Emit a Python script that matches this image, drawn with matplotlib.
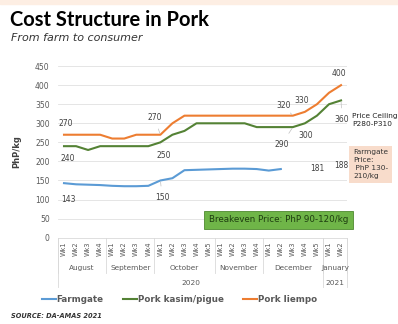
import numpy as np
import matplotlib
matplotlib.use('Agg')
import matplotlib.pyplot as plt
from matplotlib.patches import Rectangle

# Kategorien (Wochen je Monat)
months = ['August', 'September', 'October', 'November', 'December', 'January']
weeks_per_month = [4, 4, 5, 4, 5, 2]
years = ['2020', '2021']
months_per_year = [5, 1]

# Preise PhP/kg
farmgate = [143, 140, 139, 138, 136, 135, 135, 136, 150, 156, 177, 178, 179,
            180, 181, 181, 180, 176, 180, np.nan, np.nan, np.nan, np.nan, np.nan]
kasim = [240, 240, 230, 240, 240, 240, 240, 240, 250, 270, 280, 300, 300,
         300, 300, 300, 290, 290, 290, 290, 300, 320, 350, 360]
liempo = [270, 270, 270, 270, 260, 260, 270, 270, 270, 300, 320, 320, 320,
          320, 320, 320, 320, 320, 320, 320, 330, 350, 380, 400]

# Datenbeschriftungen: (index, offset px, leader)
liempo_labels = [(0, (2, 11), False), (8, (-6, 17), True), (19, (-9, 10), True),
                 (20, (-3, 11), False), (23, (-2, 12), False)]
kasim_labels = [(0, (4, -12), False), (8, (3, -13), True), (19, (-11, -17), True),
                (20, (1, -12), False), (23, (1, -19), True)]
farm_labels = [(0, (4, -16), False), (8, (2, -17), True)]
farm_extra = [(21, 181), (23, 188)]

blue = '#5b9bd5'
green = '#548235'
orange = '#ed7d31'

wk_labels = []
for n in weeks_per_month:
    wk_labels += ['Wk%d' % (i + 1) for i in range(n)]
x = np.arange(len(wk_labels))

fig = plt.figure(figsize=(3.98, 3.24), dpi=100)
fig.patches.append(Rectangle((0, 0.988), 1, 0.012, transform=fig.transFigure,
                             color='#fdeee3', zorder=0))
fig.text(0.025, 0.937, 'Cost Structure in Pork', fontsize=14.5, fontweight='bold',
         family='Lato', va='center')
fig.text(0.027, 0.882, 'From farm to consumer', fontsize=8, style='italic',
         color='#333333', va='center')
fig.text(0.027, 0.025, 'SOURCE: DA-AMAS 2021', fontsize=4.8, style='italic',
         fontweight='bold', color='#333333', va='center')

ax = fig.add_axes([0.1457, 0.2664, 0.7263, 0.5296])
ax.plot(x, farmgate, color=blue, lw=1.5, label='Farmgate')
ax.plot(x, kasim, color=green, lw=1.5, label='Pork kasim/pigue')
ax.plot(x, liempo, color=orange, lw=1.5, label='Pork liempo')

def put_labels(series, labels):
    for i, off, leader in labels:
        ax.annotate('%d' % series[i], (x[i], series[i]), xytext=off,
                    textcoords='offset pixels', ha='center', va='center',
                    fontsize=5.5, color='#404040',
                    arrowprops=dict(arrowstyle='-', color='#bfbfbf', lw=0.5,
                                    shrinkA=3, shrinkB=1) if leader else None)

put_labels(liempo, liempo_labels)
put_labels(kasim, kasim_labels)
put_labels(farmgate, farm_labels)
for i, v in farm_extra:
    ax.text(x[i], v, '%d' % v, ha='center', va='center', fontsize=5.5, color='#404040')

ax.set_xlim(-0.5, len(x) - 0.5)
ax.set_ylim(0, 450)
ax.set_yticks(np.arange(0, 451, 50))
ax.tick_params(axis='y', labelsize=5.5, labelcolor='#595959', length=0, pad=6)
ax.grid(axis='y', color='#e0e0e0', lw=0.6)
ax.set_axisbelow(True)
for s in ['top', 'right', 'left']:
    ax.spines[s].set_visible(False)
ax.spines['bottom'].set_color('#d9d9d9')
ax.spines['bottom'].set_linewidth(0.6)
ax.set_ylabel('PhP/kg', fontsize=6, fontweight='bold', color='#404040', labelpad=10)

ax.set_xticks(x)
ax.set_xticklabels(wk_labels, rotation=90, fontsize=4.8, color='#595959')
ax.tick_params(axis='x', length=0, pad=3)

# Monats- und Jahresebene
trans = ax.get_xaxis_transform()
start = 0
for m, n in zip(months, weeks_per_month):
    ax.text(start + (n - 1) / 2, -0.175, m, transform=trans, ha='center', va='center',
            fontsize=5.3, color='#595959')
    start += n
start = 0
bounds = [-0.5]
for n in weeks_per_month:
    start += n
    bounds.append(start - 0.5)
year_bounds = [bounds[0], bounds[5], bounds[6]]
for b in bounds:
    ax.plot([b, b], [0, -0.205], transform=trans, color='#d9d9d9', lw=0.6, clip_on=False)
for b in year_bounds:
    ax.plot([b, b], [0, -0.29], transform=trans, color='#d9d9d9', lw=0.6, clip_on=False)
mstart = 0
for y, k in zip(years, months_per_year):
    a = bounds[mstart]
    b = bounds[mstart + k]
    ax.text((a + b) / 2, -0.265, y, transform=trans, ha='center', va='center',
            fontsize=5.3, color='#595959')
    mstart += k

leg = ax.legend(loc='upper center', bbox_to_anchor=(0.42, -0.29), ncol=3, frameon=False,
                fontsize=6.3, handlelength=1.6, handletextpad=0.1, columnspacing=2.2)
for t in leg.get_texts():
    t.set_color('#595959')
    t.set_fontweight('bold')

fig.text(0.884, 0.63, 'Price Ceiling\nP280-P310', fontsize=5.3, color='#222222',
         va='center', linespacing=1.4)
fig.text(0.887, 0.493, 'Farmgate\nPrice:\n PhP 130-\n210/kg', fontsize=5.3,
         color='#333333', va='center', linespacing=1.4,
         bbox=dict(boxstyle='square,pad=0.5', fc='#f8dccb', ec='none'))
fig.text(0.7, 0.321, 'Breakeven Price: PhP 90-120/kg', fontsize=6.3, color='#1e3d10',
         ha='center', va='center',
         bbox=dict(boxstyle='square,pad=0.55', fc='#6fb548', ec='#4e8a30', lw=0.6))

fig.savefig('out.png', dpi=100)
